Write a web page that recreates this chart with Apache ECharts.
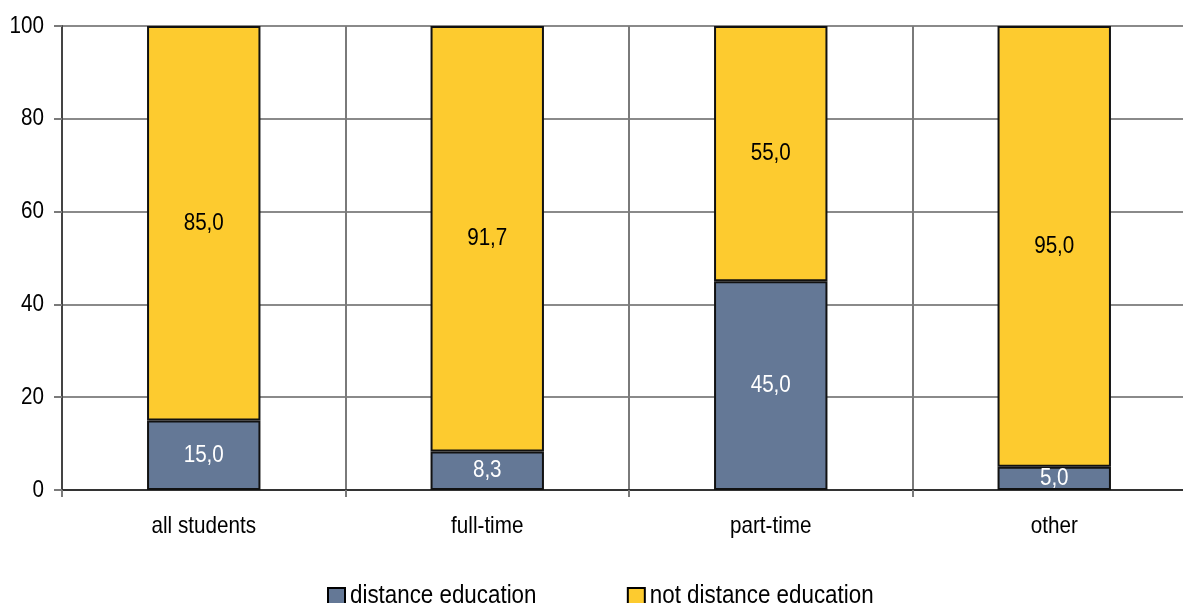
<!DOCTYPE html>
<html>
<head>
<meta charset="utf-8">
<script src="https://cdn.jsdelivr.net/npm/echarts@6/dist/echarts.min.js"></script>
<style>
  html, body { margin: 0; padding: 0; background: #fff; }
  #chart { width: 1183px; height: 603px; }
</style>
</head>
<body>
<div id="chart"></div>
<script>
// Share of students by study mode, split into distance / not distance education (%)
const categories = ['all students', 'full-time', 'part-time', 'other'];
const distance = [15.0, 8.3, 45.0, 5.0];
const notDistance = [85.0, 91.7, 55.0, 95.0];
const seriesNames = ['distance education', 'not distance education'];
const yTicks = [0, 20, 40, 60, 80, 100];

const FONT = '"Liberation Sans", Arial, sans-serif';
const FS = 24;

// No narrow sans face is installed, so text is condensed horizontally around
// its own anchor point (keeps left / centre / right alignment intact).
const NARROW = 0.86;
(function () {
  const proto = CanvasRenderingContext2D.prototype;
  const origFill = proto.fillText;
  proto.fillText = function (t, x, y, maxW) {
    this.save();
    this.translate(x, y);
    this.scale(NARROW, 1);
    if (maxW === undefined) origFill.call(this, t, 0, 0);
    else origFill.call(this, t, 0, 0, maxW / NARROW);
    this.restore();
  };
})();

const fmt = v => v.toFixed(1).replace('.', ',');

const chart = echarts.init(document.getElementById('chart'), null, { renderer: 'canvas' });

chart.setOption({
  animation: false,
  textStyle: { fontFamily: FONT },
  grid: {
    left: 62, top: 26, width: 1134, bottom: 113,
    containLabel: false,
    outerBoundsMode: 'none'
  },
  legend: {
    data: seriesNames.map(name => ({ name, icon: 'rect' })),
    left: 327,
    top: 583,
    padding: 0,
    itemWidth: 17,
    itemHeight: 16,
    itemGap: 60,
    textStyle: { fontFamily: FONT, fontSize: 26, color: '#000' },
    itemStyle: { borderColor: '#000', borderWidth: 2 }
  },
  xAxis: {
    type: 'category',
    data: categories,
    boundaryGap: true,
    axisLine: { show: true, lineStyle: { color: '#333', width: 2 } },
    axisTick: { show: true, length: 7, lineStyle: { color: '#7a7a7a', width: 2 } },
    splitLine: { show: true, lineStyle: { color: '#7a7a7a', width: 2 } },
    axisLabel: { fontFamily: FONT, fontSize: FS, color: '#000', margin: 24 }
  },
  yAxis: {
    type: 'value',
    min: yTicks[0],
    max: yTicks[yTicks.length - 1],
    interval: yTicks[1] - yTicks[0],
    axisLine: { show: true, lineStyle: { color: '#444', width: 2 } },
    axisTick: { show: true, length: 8, lineStyle: { color: '#7a7a7a', width: 2 } },
    splitLine: { show: true, lineStyle: { color: '#8a8a8a', width: 2 } },
    axisLabel: { fontFamily: FONT, fontSize: FS, color: '#000', margin: 18 }
  },
  series: [
    {
      name: seriesNames[0],
      type: 'bar',
      stack: 'total',
      data: distance,
      barWidth: '40%',
      itemStyle: { color: '#647896', borderColor: '#111', borderWidth: 2 },
      label: {
        show: true, position: 'inside', fontFamily: FONT, fontSize: FS, color: '#fff',
        formatter: p => fmt(p.value)
      }
    },
    {
      name: seriesNames[1],
      type: 'bar',
      stack: 'total',
      data: notDistance,
      barWidth: '40%',
      itemStyle: { color: '#FDCB2F', borderColor: '#111', borderWidth: 2 },
      label: {
        show: true, position: 'inside', fontFamily: FONT, fontSize: FS, color: '#000',
        formatter: p => fmt(p.value)
      }
    }
  ]
});
</script>
</body>
</html>
